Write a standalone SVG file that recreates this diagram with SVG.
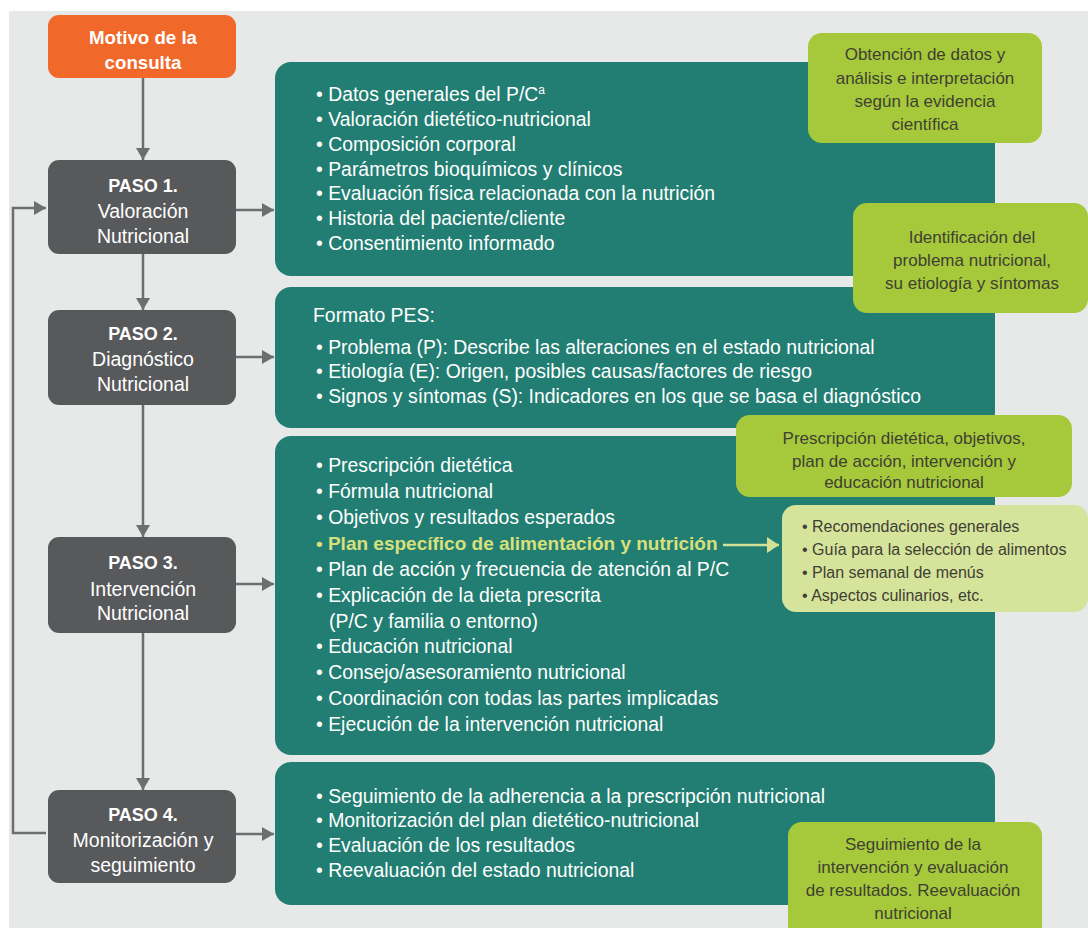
<svg xmlns="http://www.w3.org/2000/svg" width="1088" height="928" viewBox="0 0 1088 928">
<defs>
<marker id="ah" viewBox="0 0 12 14" refX="12" refY="7" markerWidth="12" markerHeight="14" markerUnits="userSpaceOnUse" orient="auto">
<path d="M0,0 L12,7 L0,14 Z" fill="#6d6e70"/>
</marker>
<marker id="ahg" viewBox="0 0 12 16" refX="12" refY="8" markerWidth="12" markerHeight="16" markerUnits="userSpaceOnUse" orient="auto">
<path d="M0,0 L12,8 L0,16 Z" fill="#d3e196"/>
</marker>
<style>
.bg{fill:#e6e9e8}
.orange{fill:#f1682b}
.paso{fill:#58595b}
.teal{fill:#227e72}
.green{fill:#a5c93a}
.lgreen{fill:#d5e39b}
.conn{stroke:#6d6e70;stroke-width:2.5;fill:none}
.pt{font-family:"Liberation Sans",Arial,sans-serif;font-size:19.5px;fill:#ffffff;text-anchor:middle}
.pb{font-weight:bold;font-size:18px}
.ob{font-weight:bold;font-size:18.7px}
.tt{font-family:"Liberation Sans",Arial,sans-serif;font-size:19.4px;fill:#ffffff}
.ct{font-family:"Liberation Sans",Arial,sans-serif;font-size:17px;fill:#3f4034;text-anchor:middle}
.lt{font-family:"Liberation Sans",Arial,sans-serif;font-size:16px;fill:#3f4034}
.hl{fill:#d8e07c;font-weight:bold;font-size:19px}
</style>
</defs>
<rect x="9" y="11" width="1079" height="917" class="bg"/>

<g id="teal1"><rect x="275" y="62" width="720" height="214" rx="16" class="teal"/>
<text class="tt" x="316" y="101">• Datos generales del P/C<tspan font-size="12" dy="-7">a</tspan></text>
<text class="tt" x="316" y="126">• Valoración dietético-nutricional</text>
<text class="tt" x="316" y="151">• Composición corporal</text>
<text class="tt" x="316" y="176">• Parámetros bioquímicos y clínicos</text>
<text class="tt" x="316" y="200">• Evaluación física relacionada con la nutrición</text>
<text class="tt" x="316" y="225">• Historia del paciente/cliente</text>
<text class="tt" x="316" y="250">• Consentimiento informado</text>
</g>
<g id="teal2"><rect x="275" y="287" width="720" height="141" rx="16" class="teal"/>
<text class="tt" x="313" y="322">Formato PES:</text>
<text class="tt" x="316" y="354">• Problema (P): Describe las alteraciones en el estado nutricional</text>
<text class="tt" x="316" y="378">• Etiología (E): Origen, posibles causas/factores de riesgo</text>
<text class="tt" x="316" y="403">• Signos y síntomas (S): Indicadores en los que se basa el diagnóstico</text>
</g>
<g id="teal3"><rect x="275" y="436" width="720" height="319" rx="16" class="teal"/>
<text class="tt" x="316" y="472">• Prescripción dietética</text>
<text class="tt" x="316" y="498">• Fórmula nutricional</text>
<text class="tt" x="316" y="524">• Objetivos y resultados esperados</text>
<text class="tt" x="316" y="550"><tspan class="hl">• Plan específico de alimentación y nutrición</tspan></text>
<text class="tt" x="316" y="576">• Plan de acción y frecuencia de atención al P/C</text>
<text class="tt" x="316" y="602">• Explicación de la dieta prescrita</text>
<text class="tt" x="329" y="628">(P/C y familia o entorno)</text>
<text class="tt" x="316" y="653">• Educación nutricional</text>
<text class="tt" x="316" y="679">• Consejo/asesoramiento nutricional</text>
<text class="tt" x="316" y="705">• Coordinación con todas las partes implicadas</text>
<text class="tt" x="316" y="731">• Ejecución de la intervención nutricional</text>
</g>
<g id="teal4"><rect x="275" y="762" width="720" height="143" rx="16" class="teal"/>
<text class="tt" x="316" y="803">• Seguimiento de la adherencia a la prescripción nutricional</text>
<text class="tt" x="316" y="827">• Monitorización del plan dietético-nutricional</text>
<text class="tt" x="316" y="852">• Evaluación de los resultados</text>
<text class="tt" x="316" y="877">• Reevaluación del estado nutricional</text>
</g>

<g id="motivo"><rect x="48" y="15" width="188" height="63" rx="11" class="orange"/>
<text class="pt ob" x="143" y="44">Motivo de la</text>
<text class="pt ob" x="143" y="69">consulta</text></g>
<g id="paso1"><rect x="48" y="160" width="188" height="94" rx="11" class="paso"/>
<text class="pt pb" x="143" y="192">PASO 1.</text>
<text class="pt" x="143" y="218">Valoración</text>
<text class="pt" x="143" y="243">Nutricional</text></g>
<g id="paso2"><rect x="48" y="310" width="188" height="95" rx="11" class="paso"/>
<text class="pt pb" x="143" y="340">PASO 2.</text>
<text class="pt" x="143" y="366">Diagnóstico</text>
<text class="pt" x="143" y="391">Nutricional</text></g>
<g id="paso3"><rect x="48" y="537" width="188" height="96" rx="11" class="paso"/>
<text class="pt pb" x="143" y="569">PASO 3.</text>
<text class="pt" x="143" y="596">Intervención</text>
<text class="pt" x="143" y="620">Nutricional</text></g>
<g id="paso4"><rect x="48" y="790" width="188" height="93" rx="11" class="paso"/>
<text class="pt pb" x="143" y="821">PASO 4.</text>
<text class="pt" x="143" y="847">Monitorización y</text>
<text class="pt" x="143" y="872">seguimiento</text></g>

<g id="callout1"><rect x="808" y="33" width="234" height="110" rx="14" class="green"/>
<text class="ct" x="925" y="60">Obtención de datos y</text>
<text class="ct" x="925" y="84">análisis e interpretación</text>
<text class="ct" x="925" y="107">según la evidencia</text>
<text class="ct" x="925" y="130">científica</text></g>
<g id="callout2"><rect x="853" y="203" width="235" height="110" rx="14" class="green"/>
<text class="ct" x="972" y="243">Identificación del</text>
<text class="ct" x="972" y="266">problema nutricional,</text>
<text class="ct" x="972" y="289">su etiología y síntomas</text></g>
<g id="callout3"><rect x="736" y="415" width="336" height="82" rx="14" class="green"/>
<text class="ct" x="904" y="444">Prescripción dietética, objetivos,</text>
<text class="ct" x="904" y="467">plan de acción, intervención y</text>
<text class="ct" x="904" y="488">educación nutricional</text></g>
<g id="callout-plan"><rect x="782" y="505" width="306" height="107" rx="14" class="lgreen"/>
<text class="lt" x="802" y="532">• Recomendaciones generales</text>
<text class="lt" x="802" y="555">• Guía para la selección de alimentos</text>
<text class="lt" x="802" y="578">• Plan semanal de menús</text>
<text class="lt" x="802" y="601">• Aspectos culinarios, etc.</text></g>
<g id="callout4"><rect x="788" y="822" width="254" height="120" rx="14" class="green"/>
<text class="ct" x="913" y="850">Seguimiento de la</text>
<text class="ct" x="913" y="873">intervención y evaluación</text>
<text class="ct" x="913" y="896">de resultados. Reevaluación</text>
<text class="ct" x="913" y="919">nutricional</text></g>

<g id="connectors">
<line class="conn" x1="143" y1="78" x2="143" y2="160" marker-end="url(#ah)"/>
<line class="conn" x1="143" y1="254" x2="143" y2="310" marker-end="url(#ah)"/>
<line class="conn" x1="143" y1="405" x2="143" y2="537" marker-end="url(#ah)"/>
<line class="conn" x1="143" y1="633" x2="143" y2="790" marker-end="url(#ah)"/>
<line class="conn" x1="236" y1="210" x2="274" y2="210" marker-end="url(#ah)"/>
<line class="conn" x1="236" y1="357" x2="274" y2="357" marker-end="url(#ah)"/>
<line class="conn" x1="236" y1="584" x2="274" y2="584" marker-end="url(#ah)"/>
<line class="conn" x1="236" y1="834" x2="274" y2="834" marker-end="url(#ah)"/>
<path class="conn" d="M46,833 H13 V208 H46" marker-end="url(#ah)"/>
<line x1="723" y1="545" x2="779" y2="545" stroke="#d3e196" stroke-width="2.5" marker-end="url(#ahg)"/>
</g>
</svg>
